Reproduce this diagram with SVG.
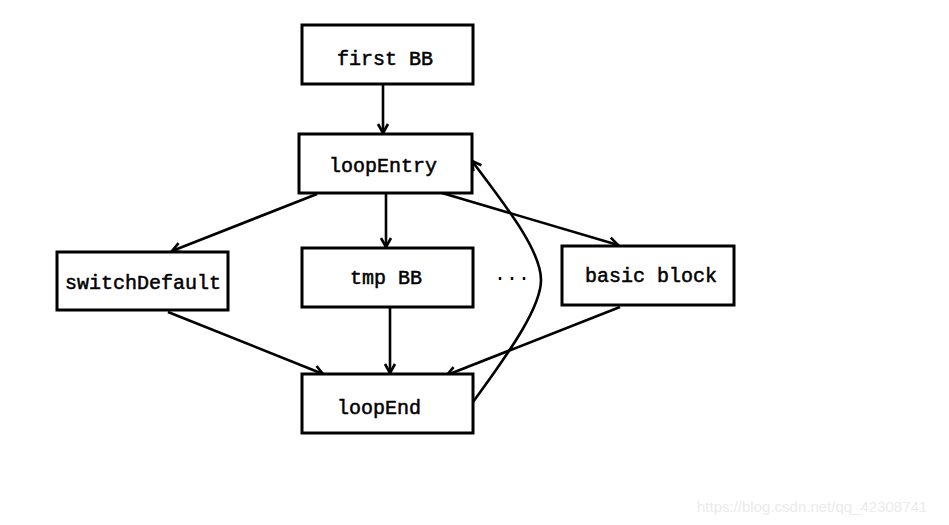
<svg xmlns="http://www.w3.org/2000/svg" width="949" height="525" viewBox="0 0 949 525">
<style>
.box{fill:#fff;stroke:#000;stroke-width:3}
.lbl{font-family:"Liberation Mono",monospace;font-size:20px;font-weight:normal;fill:#000;stroke:#000;stroke-width:0.5}
.edge{fill:none;stroke:#000;stroke-width:2.6}
.wm{font-family:"Liberation Sans",Arial,sans-serif;font-size:15px;fill:#ebebeb}
</style>
<defs>
<marker id="ah" markerUnits="userSpaceOnUse" viewBox="-12 -8 14 16" refX="0" refY="0" markerWidth="14" markerHeight="16" orient="auto" overflow="visible">
<path d="M-9,-5 L0,0 L-9,5" fill="none" stroke="#000" stroke-width="2.6"/>
</marker>
</defs>
<rect width="949" height="525" fill="#fff"/>
<g id="edges">
<line class="edge" x1="383" y1="84" x2="383" y2="133" marker-end="url(#ah)"/>
<line class="edge" x1="317" y1="194" x2="172" y2="251" marker-end="url(#ah)"/>
<line class="edge" x1="386" y1="193" x2="386" y2="247" marker-end="url(#ah)"/>
<line class="edge" x1="442" y1="193" x2="618" y2="245" marker-end="url(#ah)"/>
<line class="edge" x1="168" y1="312" x2="323" y2="374" marker-end="url(#ah)"/>
<line class="edge" x1="390" y1="307" x2="390" y2="373" marker-end="url(#ah)"/>
<line class="edge" x1="620" y1="307" x2="447" y2="375" marker-end="url(#ah)"/>
<path class="edge" d="M473,402 C515,345 541,305 541,280 C541,250 505,205 472,161" marker-end="url(#ah)"/>
</g>
<g id="firstBB"><rect class="box" x="302" y="25" width="171" height="59"/><text class="lbl" x="337" y="65">first BB</text></g>
<g id="loopEntry"><rect class="box" x="299" y="134" width="173" height="59"/><text class="lbl" x="329" y="172">loopEntry</text></g>
<g id="switchDefault"><rect class="box" x="57" y="252" width="171" height="58"/><text class="lbl" x="65" y="289">switchDefault</text></g>
<g id="tmpBB"><rect class="box" x="302" y="248" width="171" height="59"/><text class="lbl" x="350" y="284">tmp BB</text></g>
<g id="dots"><text class="lbl" x="494" y="284" style="stroke-width:0">···</text></g>
<g id="basicBlock"><rect class="box" x="562" y="246" width="172" height="59"/><text class="lbl" x="585" y="282">basic block</text></g>
<g id="loopEnd"><rect class="box" x="302" y="374" width="171" height="59"/><text class="lbl" x="337" y="414">loopEnd</text></g>
<text class="wm" x="697" y="512">https://blog.csdn.net/qq_42308741</text>
</svg>
